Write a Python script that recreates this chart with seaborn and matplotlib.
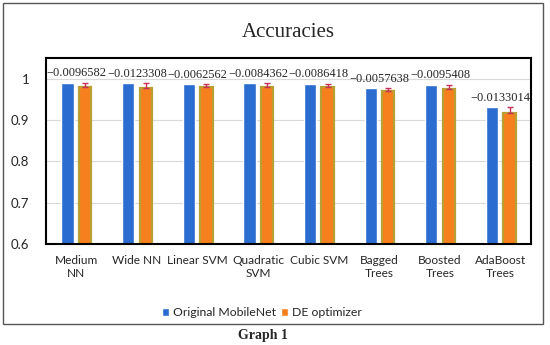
#!/usr/bin/env python3
import matplotlib
matplotlib.use("Agg")
import matplotlib.pyplot as plt
from matplotlib.patches import Rectangle
import pandas as pd
import seaborn as sns

# values
models = ["Medium\nNN", "Wide NN", "Linear SVM", "Quadratic\nSVM", "Cubic SVM",
          "Bagged\nTrees", "Boosted\nTrees", "AdaBoost\nTrees"]
original = [0.990, 0.989, 0.986, 0.989, 0.988, 0.977, 0.985, 0.931]
de_opt = [0.980, 0.977, 0.980, 0.981, 0.979, 0.971, 0.975, 0.918]
de_err = [0.0097, 0.0123, 0.0063, 0.0084, 0.0086, 0.0058, 0.0095, 0.0133]
diff_labels = ["\u22120.0096582", "\u22120.0123308", "\u22120.0062562", "\u22120.0084362",
               "\u22120.0086418", "\u22120.0057638", "\u22120.0095408", "\u22120.0133014"]
series = ["Original MobileNet", "DE optimizer"]

df = pd.DataFrame({
    "model": models * 2,
    "acc": original + de_opt,
    "series": [series[0]] * len(models) + [series[1]] * len(models),
})

sans = ["Lato", "DejaVu Sans"]
serif = ["Liberation Serif", "DejaVu Serif"]

sns.set_style("white")
plt.rcParams["font.family"] = sans

fig = plt.figure(figsize=(5.5, 3.45), dpi=100)
ax = fig.add_axes([0.0836, 0.2928, 0.8819, 0.5391])

sns.barplot(data=df, x="model", y="acc", hue="series", order=models,
            palette=["#2B6CD0", "#F7801E"], saturation=1, width=0.58, gap=0.3,
            errorbar=None, ax=ax, zorder=2)

# olive rim on the orange bars, like the original
for bar in ax.containers[1]:
    bar.set_edgecolor("#B8A032")
    bar.set_linewidth(1.6)

# error bars on the DE optimizer bars (upper side only)
xs = [b.get_x() + b.get_width() / 2 for b in ax.containers[1]]
ax.errorbar(xs, de_opt, yerr=[[0] * len(de_err), de_err], fmt="none",
            ecolor="#C8305A", elinewidth=1, capsize=2.5, zorder=3)

# difference labels above each group
for i, lab in enumerate(diff_labels):
    top = max(original[i], de_opt[i] + de_err[i])
    ax.annotate(lab, (i, top), xytext=(0, 2.5), textcoords="offset points",
                ha="center", va="bottom", fontsize=8.9, family=serif)

ax.set_ylim(0.6, 1.05)
ax.set_xlim(-0.5, len(models) - 0.5)
ax.set_yticks([0.6, 0.7, 0.8, 0.9, 1.0])
ax.set_yticklabels(["0.6", "0.7", "0.8", "0.9", "1"])
ax.yaxis.grid(True, color="#d9d9d9", lw=0.8, zorder=0)
ax.set_axisbelow(True)
ax.tick_params(axis="both", length=0, labelsize=9.5)
ax.tick_params(axis="x", labelsize=8.6, pad=8)
ax.tick_params(axis="y", pad=12)
ax.set_xlabel("")
ax.set_ylabel("")
for s in ax.spines.values():
    s.set_color("black")
    s.set_linewidth(1.5)

leg = ax.legend(loc="center", bbox_to_anchor=(0.445, -0.37), ncol=2, frameon=False,
                fontsize=8.8, handlelength=0.6, handleheight=0.6, handletextpad=0.3,
                columnspacing=0.4)

fig.text(0.524, 0.905, "Accuracies", ha="center", va="center", fontsize=15, family=serif)
fig.text(0.478, 0.028, "Graph 1", ha="center", va="center", fontsize=10,
         fontweight="bold", family=serif)
fig.patches.append(Rectangle((0.006, 0.062), 0.982, 0.93, transform=fig.transFigure,
                             fill=False, edgecolor="#555555", lw=1))

fig.savefig("out.png", dpi=100)
